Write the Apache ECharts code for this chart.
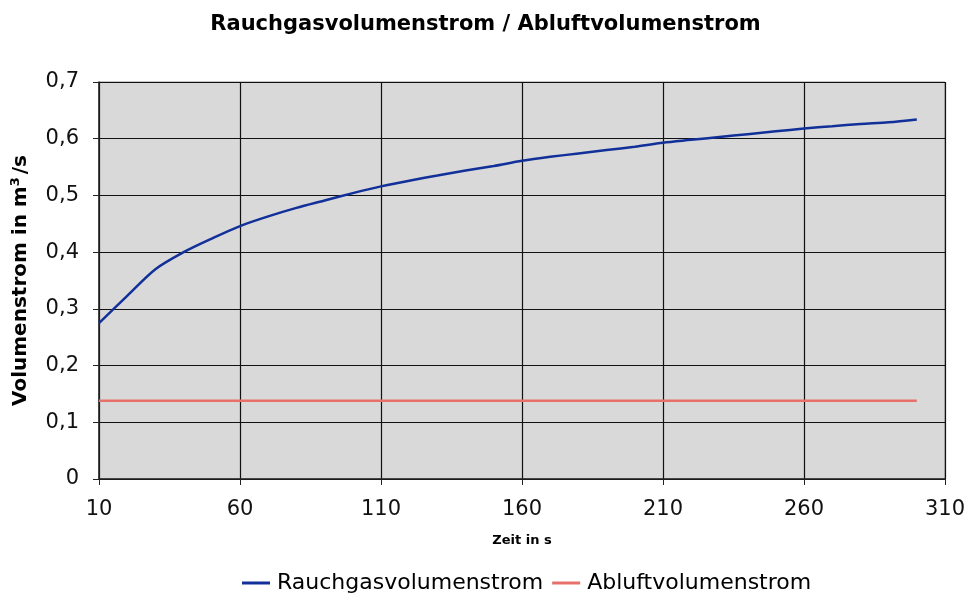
<!DOCTYPE html>
<html>
<head>
<meta charset="utf-8">
<script src="https://cdn.jsdelivr.net/npm/echarts@6/dist/echarts.min.js"></script>
<style>
  html, body { margin: 0; padding: 0; background: #fff; }
  #chart { width: 971px; height: 593px; }
</style>
</head>
<body>
<div id="chart"></div>
<script>
// Zeit in s
const zeit = [10, 20, 30, 40, 50, 60, 70, 80, 90, 100, 110, 120, 130, 140, 150,
  160, 170, 180, 190, 200, 210, 220, 230, 240, 250, 260, 270, 280, 290, 300];
// Volumenstrom in m³/s
const rauchgas = [0.275, 0.323, 0.370, 0.400, 0.424, 0.446, 0.463, 0.478, 0.491, 0.504,
  0.516, 0.526, 0.535, 0.544, 0.552, 0.561, 0.568, 0.574, 0.580, 0.586,
  0.593, 0.598, 0.603, 0.608, 0.613, 0.618, 0.622, 0.626, 0.629, 0.634];
const abluft = zeit.map(() => 0.138);

const font = '"DejaVu Sans", Verdana, sans-serif';
const chart = echarts.init(document.getElementById('chart'));

chart.setOption({
  backgroundColor: '#fff',
  animation: false,
  title: {
    text: 'Rauchgasvolumenstrom / Abluftvolumenstrom',
    left: 'center',
    top: 9,
    textStyle: { fontFamily: font, fontSize: 21, fontWeight: 'bold', color: '#000' }
  },
  legend: {
    top: 567,
    left: 237,
    itemWidth: 28,
    itemHeight: 3,
    itemGap: 9,
    icon: 'rect',
    textStyle: { fontFamily: font, fontSize: 22, color: '#000', padding: [0, 0, 0, 2] },
    data: ['Rauchgasvolumenstrom', 'Abluftvolumenstrom']
  },
  grid: {
    left: 99, right: 26, top: 82, bottom: 114,
    outerBoundsMode: 'none',
    show: true,
    backgroundColor: '#d9d9d9',
    borderColor: '#8c8c8c',
    borderWidth: 1
  },
  xAxis: {
    type: 'value',
    min: 10,
    max: 310,
    interval: 50,
    name: 'Zeit in s',
    nameLocation: 'middle',
    nameGap: 55,
    nameTextStyle: { fontFamily: font, fontSize: 13, fontWeight: 'bold', color: '#000' },
    axisLine: { show: true, lineStyle: { color: '#222', width: 1.5 } },
    axisTick: { show: true, length: 6, lineStyle: { color: '#222' } },
    axisLabel: { fontFamily: font, fontSize: 21, color: '#111', margin: 20 },
    splitLine: { show: true, lineStyle: { color: '#111', width: 1.2 } }
  },
  yAxis: {
    type: 'value',
    min: 0,
    max: 0.7,
    interval: 0.1,
    name: '{b|Volumenstrom in m}{sup|3}{b|/s}',
    nameLocation: 'middle',
    nameGap: 67,
    nameTextStyle: {
      rich: {
        b: { fontFamily: font, fontSize: 20, fontWeight: 'bold', color: '#000' },
        sup: { fontFamily: font, fontSize: 13, fontWeight: 'bold', color: '#000', verticalAlign: 'top', padding: [0, 3, 10, 0] }
      }
    },
    axisLine: { show: true, lineStyle: { color: '#222', width: 1.5 } },
    axisTick: { show: true, length: 6, lineStyle: { color: '#222' } },
    axisLabel: {
      fontFamily: font, fontSize: 21, color: '#111', margin: 20,
      formatter: v => String(Math.round(v * 10) / 10).replace('.', ',')
    },
    splitLine: { show: true, lineStyle: { color: '#111', width: 1.2 } }
  },
  series: [
    {
      name: 'Rauchgasvolumenstrom',
      type: 'line',
      data: zeit.map((t, i) => [t, rauchgas[i]]),
      showSymbol: false,
      smooth: 0.3,
      lineStyle: { color: '#12309a', width: 2.5 },
      itemStyle: { color: '#12309a' }
    },
    {
      name: 'Abluftvolumenstrom',
      type: 'line',
      data: zeit.map((t, i) => [t, abluft[i]]),
      showSymbol: false,
      lineStyle: { color: '#e8706a', width: 2.5 },
      itemStyle: { color: '#e8706a' }
    }
  ]
});
</script>
</body>
</html>
